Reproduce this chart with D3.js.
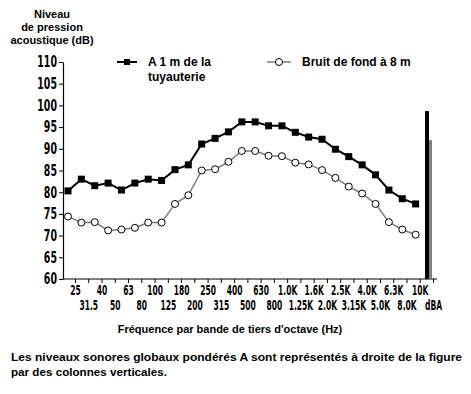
<!DOCTYPE html>
<html>
<head>
<meta charset="utf-8">
<script src="https://cdn.jsdelivr.net/npm/d3@7"></script>
<style>
  body { margin: 0; background: #fff; }
  svg { display: block; }
  .bold { font-family: "Liberation Sans", Arial, sans-serif; font-weight: bold; font-size: 11px; fill: #000; }
  .tick text { font-family: "DejaVu Sans Condensed", sans-serif; font-stretch: condensed; font-weight: bold; fill: #000; }
</style>
</head>
<body>
<div id="chart"></div>
<script>
// frequency bands (1/3 octave) + overall A-weighted column
const bands = ["25", "31.5", "40", "50", "63", "80", "100", "125", "180", "200", "250", "315", "400", "500",
  "630", "800", "1.0K", "1.25K", "1.6K", "2.0K", "2.5K", "3.15K", "4.0K", "5.0K", "6.3K", "8.0K", "10K", "dBA"];

// A 1 m de la tuyauterie
const pipeLevels = [80.3, 83.0, 81.5, 82.1, 80.5, 82.1, 83.0, 82.7, 85.2, 86.3, 91.1, 92.4, 93.9, 96.2,
  96.2, 95.3, 95.3, 93.8, 92.7, 92.2, 89.9, 88.2, 86.3, 84.0, 80.5, 78.5, 77.3];
// Bruit de fond à 8 m
const backgroundLevels = [74.4, 73.0, 73.1, 71.2, 71.4, 71.8, 73.0, 73.0, 77.3, 79.3, 85.0, 85.3, 87.0, 89.5,
  89.5, 88.4, 88.3, 86.8, 86.4, 85.1, 83.3, 81.3, 79.7, 77.3, 73.1, 71.4, 70.2];
// overall dBA columns
const overall = [
  { series: "pipe", value: 98.7 },
  { series: "background", value: 92.0 }
];
const yTicks = [60, 65, 70, 75, 80, 85, 90, 95, 100, 105, 110];

const width = 471, height = 394;

const svg = d3.select("#chart").append("svg")
    .attr("width", width)
    .attr("height", height);

const y = d3.scaleLinear().domain([60, 110]).range([279, 62]);
const xTick = d3.scalePoint().domain(bands).range([75, 433]);
const xPt = d3.scalePoint().domain(bands).range([68, 429]);

// y axis
const ySx = 0.7;
const yAxis = svg.append("g")
    .attr("transform", "translate(63,0)")
    .call(d3.axisLeft(y).tickValues(yTicks).tickSize(4).tickPadding(3).tickSizeOuter(0));
yAxis.select(".domain").attr("stroke", "#000").attr("stroke-width", 1.2);
yAxis.selectAll(".tick line").attr("stroke", "#000");
yAxis.selectAll(".tick text")
    .style("font-size", "15px")
    .attr("x", -6 / ySx)
    .attr("transform", `scale(${ySx},1)`);

// x axis
const xSx = 0.6;
const xAxis = svg.append("g")
    .attr("transform", "translate(0,279)")
    .call(d3.axisBottom(xTick).tickSize(4).tickSizeOuter(0));
xAxis.select(".domain").attr("d", "M63,0H437").attr("stroke", "#000").attr("stroke-width", 1.2);
xAxis.selectAll(".tick line").attr("stroke", "#000");
xAxis.selectAll(".tick text")
    .style("font-size", "14px")
    .attr("transform", `scale(${xSx},1)`)
    .attr("y", (d, i) => i % 2 === 0 ? 6 : 21);

// overall columns
svg.append("g").selectAll("rect")
  .data(overall)
  .join("rect")
    .attr("x", d => d.series === "pipe" ? xPt("dBA") - 4 : xPt("dBA"))
    .attr("width", d => d.series === "pipe" ? 4 : 3)
    .attr("y", d => y(d.value))
    .attr("height", d => y(60) - y(d.value))
    .attr("fill", d => d.series === "pipe" ? "#000" : "#808080");

const line = d3.line()
    .x((d, i) => xPt(bands[i]))
    .y(d => y(d));

// background line
svg.append("path")
    .datum(backgroundLevels)
    .attr("fill", "none")
    .attr("stroke", "#7a7a7a")
    .attr("stroke-width", 1.5)
    .attr("d", line);

svg.append("g").selectAll("circle")
  .data(backgroundLevels)
  .join("circle")
    .attr("cx", (d, i) => xPt(bands[i]))
    .attr("cy", d => y(d))
    .attr("r", 3.5)
    .attr("fill", "#fff")
    .attr("stroke", "#000")
    .attr("stroke-width", 1);

// pipe line
svg.append("path")
    .datum(pipeLevels)
    .attr("fill", "none")
    .attr("stroke", "#000")
    .attr("stroke-width", 2)
    .attr("d", line);

svg.append("g").selectAll("rect")
  .data(pipeLevels)
  .join("rect")
    .attr("x", (d, i) => xPt(bands[i]) - 3.5)
    .attr("y", d => y(d) - 3.5)
    .attr("width", 7)
    .attr("height", 7)
    .attr("fill", "#000");

// legend
const legend = svg.append("g");
legend.append("line").attr("x1", 117).attr("x2", 137).attr("y1", 62).attr("y2", 62)
    .attr("stroke", "#000").attr("stroke-width", 2);
legend.append("rect").attr("x", 124).attr("y", 59).attr("width", 6).attr("height", 6).attr("fill", "#000");
legend.append("text").attr("class", "bold").style("font-size", "12px").attr("x", 148).attr("y", 66).text("A 1 m de la");
legend.append("text").attr("class", "bold").style("font-size", "12px").attr("x", 148).attr("y", 81).text("tuyauterie");

legend.append("line").attr("x1", 267).attr("x2", 291).attr("y1", 62).attr("y2", 62)
    .attr("stroke", "#7a7a7a").attr("stroke-width", 1.5);
legend.append("circle").attr("cx", 279).attr("cy", 62).attr("r", 3.5)
    .attr("fill", "#fff").attr("stroke", "#000");
legend.append("text").attr("class", "bold").style("font-size", "12px").attr("x", 302).attr("y", 66).text("Bruit de fond à 8 m");

// y title
const yTitle = ["Niveau", "de pression", "acoustique (dB)"];
svg.append("g").selectAll("text")
  .data(yTitle)
  .join("text")
    .attr("class", "bold")
    .attr("text-anchor", "middle")
    .attr("x", 52)
    .attr("y", (d, i) => 18 + i * 13)
    .text(d => d);

// x title
svg.append("text")
    .attr("class", "bold")
    .attr("text-anchor", "middle")
    .attr("x", 230)
    .attr("y", 333)
    .text("Fréquence par bande de tiers d'octave (Hz)");

// note
const note = ["Les niveaux sonores globaux pondérés A sont représentés à droite de la figure",
  "par des colonnes verticales."];
const noteLen = [451, 156];
svg.append("g").selectAll("text")
  .data(note)
  .join("text")
    .attr("class", "bold")
    .style("font-size", "11.5px")
    .attr("x", 11)
    .attr("y", (d, i) => 361 + i * 15)
    .attr("textLength", (d, i) => noteLen[i])
    .attr("lengthAdjust", "spacingAndGlyphs")
    .text(d => d);
</script>
</body>
</html>
